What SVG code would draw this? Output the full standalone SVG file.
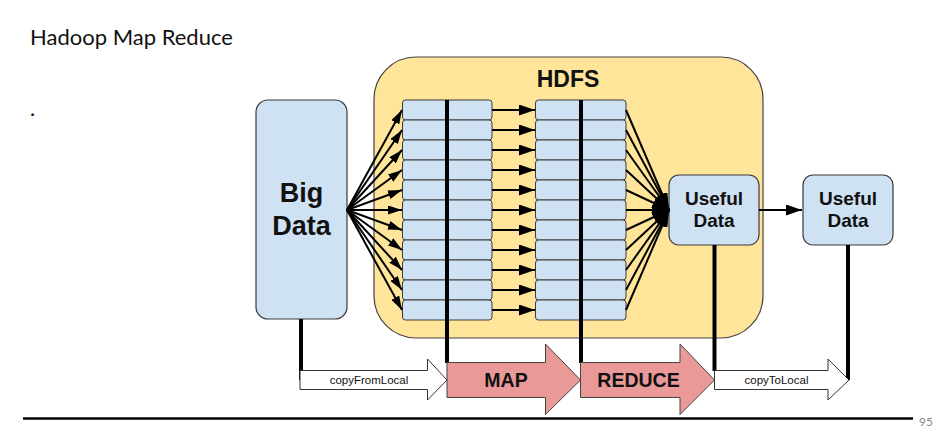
<svg xmlns="http://www.w3.org/2000/svg" width="952" height="432" viewBox="0 0 952 432">
<style>
.blue{fill:#cfe2f3;stroke:#3a3a3a;stroke-width:1.2}
.row{fill:#cfe2f3;stroke:#3a3a3a;stroke-width:1}
.big{font-family:"Liberation Sans",Arial,sans-serif;font-weight:bold;fill:#111;text-anchor:middle}
.lbl{font-family:"Liberation Sans",Arial,sans-serif;fill:#111;text-anchor:middle;font-size:11.5px}
.ln{stroke:#000;stroke-width:2;fill:none}
.vl{stroke:#000;stroke-width:4;fill:none}
.pink{fill:#ea9999;stroke:#444;stroke-width:1}
.white{fill:#fff;stroke:#333;stroke-width:1}
</style>
<defs>
<marker id="ah" markerUnits="userSpaceOnUse" markerWidth="16" markerHeight="11" refX="16" refY="5.5" orient="auto"><path d="M0,0 L16,5.5 L0,11 Z" fill="#000"/></marker>
<marker id="ahs" markerUnits="userSpaceOnUse" markerWidth="14" markerHeight="9" refX="14" refY="4.5" orient="auto"><path d="M0,0 L14,4.5 L0,9 Z" fill="#000"/></marker>
<marker id="ahm" markerUnits="userSpaceOnUse" markerWidth="17" markerHeight="11" refX="17" refY="5.5" orient="auto"><path d="M0,0 L17,5.5 L0,11 Z" fill="#000"/></marker>
</defs>
<rect width="952" height="432" fill="#fff"/>
<text x="30" y="45" font-family="Lato,'Noto Sans',sans-serif" font-size="22" fill="#111">Hadoop Map Reduce</text>
<text x="30" y="116" font-family="Lato,'Noto Sans',sans-serif" font-size="22" fill="#111">.</text>

<g id="hdfs">
<rect x="374" y="57" width="389" height="281" rx="42" fill="#ffe599" stroke="#444" stroke-width="1.2"/>
<text x="568" y="87" class="big" font-size="23">HDFS</text>
</g>

<g id="big-data">
<rect class="blue" x="256" y="100" width="91" height="219" rx="12"/>
<text x="301.5" y="202" class="big" font-size="27">Big</text>
<text x="301.5" y="235" class="big" font-size="27">Data</text>
</g>

<g id="map-blocks">
<rect class="row" x="402.5" y="100" width="89.5" height="20" rx="3"/>
<rect class="row" x="402.5" y="120" width="89.5" height="20" rx="3"/>
<rect class="row" x="402.5" y="140" width="89.5" height="20" rx="3"/>
<rect class="row" x="402.5" y="160" width="89.5" height="20" rx="3"/>
<rect class="row" x="402.5" y="180" width="89.5" height="20" rx="3"/>
<rect class="row" x="402.5" y="200" width="89.5" height="20" rx="3"/>
<rect class="row" x="402.5" y="220" width="89.5" height="20" rx="3"/>
<rect class="row" x="402.5" y="240" width="89.5" height="20" rx="3"/>
<rect class="row" x="402.5" y="260" width="89.5" height="20" rx="3"/>
<rect class="row" x="402.5" y="280" width="89.5" height="20" rx="3"/>
<rect class="row" x="402.5" y="300" width="89.5" height="20" rx="3"/>
</g>

<g id="reduce-blocks">
<rect class="row" x="535.5" y="100" width="90.5" height="20" rx="3"/>
<rect class="row" x="535.5" y="120" width="90.5" height="20" rx="3"/>
<rect class="row" x="535.5" y="140" width="90.5" height="20" rx="3"/>
<rect class="row" x="535.5" y="160" width="90.5" height="20" rx="3"/>
<rect class="row" x="535.5" y="180" width="90.5" height="20" rx="3"/>
<rect class="row" x="535.5" y="200" width="90.5" height="20" rx="3"/>
<rect class="row" x="535.5" y="220" width="90.5" height="20" rx="3"/>
<rect class="row" x="535.5" y="240" width="90.5" height="20" rx="3"/>
<rect class="row" x="535.5" y="260" width="90.5" height="20" rx="3"/>
<rect class="row" x="535.5" y="280" width="90.5" height="20" rx="3"/>
<rect class="row" x="535.5" y="300" width="90.5" height="20" rx="3"/>
</g>

<g id="useful-data-1">
<rect class="blue" x="669" y="175" width="90" height="70" rx="10"/>
<text x="714" y="205" class="big" font-size="19">Useful</text>
<text x="714" y="227" class="big" font-size="19">Data</text>
</g>

<g id="useful-data-2">
<rect class="blue" x="803" y="175" width="90" height="70" rx="10"/>
<text x="848" y="205" class="big" font-size="19">Useful</text>
<text x="848" y="227" class="big" font-size="19">Data</text>
</g>

<g id="connectors">
<g marker-end="url(#ahs)" class="ln">
<line x1="347" y1="210" x2="402" y2="110"/>
<line x1="347" y1="210" x2="402" y2="130"/>
<line x1="347" y1="210" x2="402" y2="150"/>
<line x1="347" y1="210" x2="402" y2="170"/>
<line x1="347" y1="210" x2="402" y2="190"/>
<line x1="347" y1="210" x2="402" y2="210"/>
<line x1="347" y1="210" x2="402" y2="230"/>
<line x1="347" y1="210" x2="402" y2="250"/>
<line x1="347" y1="210" x2="402" y2="270"/>
<line x1="347" y1="210" x2="402" y2="290"/>
<line x1="347" y1="210" x2="402" y2="310"/>
</g>
<g marker-end="url(#ah)" class="ln">
<line x1="492" y1="110" x2="535" y2="110"/>
<line x1="492" y1="130" x2="535" y2="130"/>
<line x1="492" y1="150" x2="535" y2="150"/>
<line x1="492" y1="170" x2="535" y2="170"/>
<line x1="492" y1="190" x2="535" y2="190"/>
<line x1="492" y1="210" x2="535" y2="210"/>
<line x1="492" y1="230" x2="535" y2="230"/>
<line x1="492" y1="250" x2="535" y2="250"/>
<line x1="492" y1="270" x2="535" y2="270"/>
<line x1="492" y1="290" x2="535" y2="290"/>
<line x1="492" y1="310" x2="535" y2="310"/>
</g>
<g marker-end="url(#ahm)" class="ln">
<line x1="626" y1="110" x2="669" y2="210"/>
<line x1="626" y1="130" x2="669" y2="210"/>
<line x1="626" y1="150" x2="669" y2="210"/>
<line x1="626" y1="170" x2="669" y2="210"/>
<line x1="626" y1="190" x2="669" y2="210"/>
<line x1="626" y1="210" x2="669" y2="210"/>
<line x1="626" y1="230" x2="669" y2="210"/>
<line x1="626" y1="250" x2="669" y2="210"/>
<line x1="626" y1="270" x2="669" y2="210"/>
<line x1="626" y1="290" x2="669" y2="210"/>
<line x1="626" y1="310" x2="669" y2="210"/>
</g>
<line class="ln" x1="759" y1="210" x2="802" y2="210" marker-end="url(#ah)"/>
<line class="vl" x1="447" y1="100" x2="447" y2="363"/>
<line class="vl" x1="581" y1="100" x2="581" y2="363"/>
<line class="vl" x1="301" y1="319" x2="301" y2="380"/>
<line class="vl" x1="714.5" y1="245" x2="714.5" y2="371"/>
<line class="vl" x1="848" y1="245" x2="848" y2="380"/>
</g>

<g id="copyFromLocal">
<path class="white" d="M300,370.5 L427.5,370.5 L427.5,359 L447,380 L427.5,400 L427.5,389.5 L300,389.5 Z"/>
<text x="369" y="383.5" class="lbl">copyFromLocal</text>
</g>
<g id="map">
<path class="pink" d="M447,362.5 L545.5,362.5 L545.5,344 L580.5,380 L545.5,414.5 L545.5,397.5 L447,397.5 Z"/>
<text x="506" y="386.5" class="big" font-size="19.5">MAP</text>
</g>
<g id="reduce">
<path class="pink" d="M580.5,362.5 L680,362.5 L680,344 L714.5,380 L680,414.5 L680,397.5 L580.5,397.5 Z"/>
<text x="638.5" y="386.5" class="big" font-size="19.5">REDUCE</text>
</g>
<g id="copyToLocal">
<path class="white" d="M714.5,370.5 L828,370.5 L828,359 L849,380 L828,400 L828,389.5 L714.5,389.5 Z"/>
<text x="776.5" y="383.5" class="lbl">copyToLocal</text>
</g>

<line x1="23" y1="418.5" x2="913" y2="418.5" stroke="#000" stroke-width="2.5"/>
<text x="919" y="426" font-family="Lato,'Noto Sans',sans-serif" font-size="12" fill="#888">95</text>
</svg>
